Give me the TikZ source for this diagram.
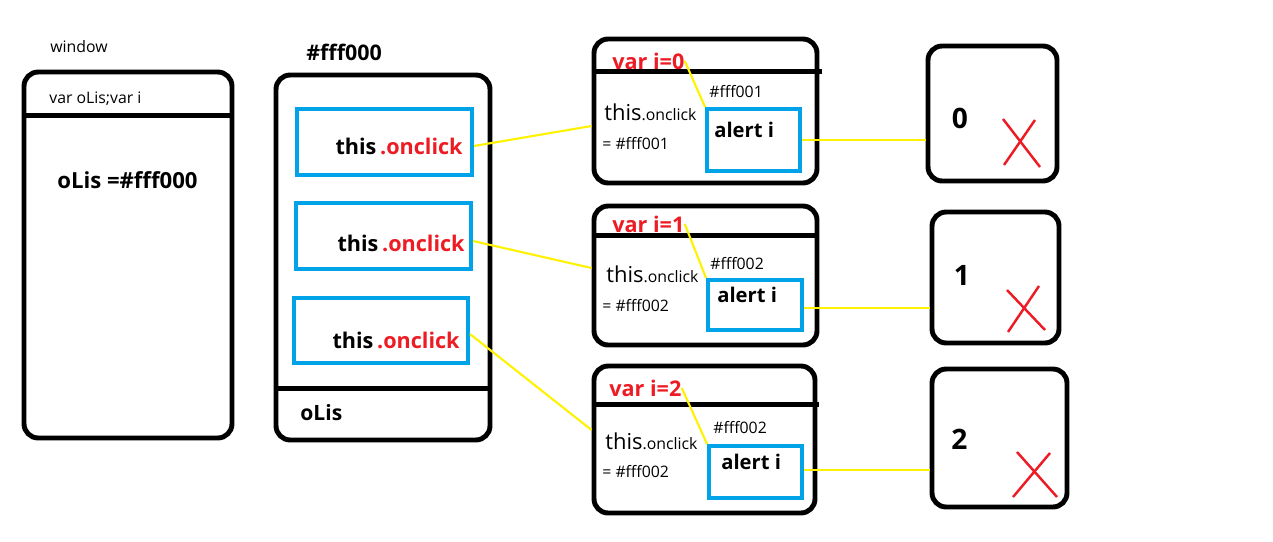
\documentclass[tikz,border=0pt]{standalone}
\usepackage{fontspec}
\setmainfont{Open Sans}
\usepackage{xcolor}
\definecolor{colSlot}{RGB}{0,162,232}
\definecolor{colMark}{RGB}{237,28,36}
\definecolor{colWire}{RGB}{255,242,0}
\usetikzlibrary{calc}

\begin{document}
\begin{tikzpicture}[x=0.02cm, y=-0.02cm,
		frame/.style={draw, line width=2.8pt, rounded corners=8pt, inner sep=0pt},
		slot/.style={draw=colSlot, line width=2.2pt, inner sep=0pt},
		wire/.style={colWire, line width=1.2pt},
		cross/.style={colMark, line width=1.4pt},
		sm/.style={font=\fontsize{9}{11}\selectfont, inner sep=0pt, anchor=west},
		bf/.style={font=\fontsize{11.5}{13}\selectfont\bfseries, inner sep=0pt, anchor=west},
		bfl/.style={bf, font=\fontsize{12.3}{14}\selectfont\bfseries},
		digit/.style={font=\fontsize{16}{18}\selectfont\bfseries, inner sep=0pt}]
	\useasboundingbox (0,0) rectangle (1273,541);
	% window scope
	\node[frame, minimum width=4.16cm, minimum height=7.32cm] (win) at (128,255) {};
	\draw[line width=2.8pt] ([yshift=-0.92cm]win.north west) -- ([yshift=-0.92cm]win.north east);
	\node[sm] (wlab) at (50,47) {window};
	\node[sm] (wvars) at (49,99) {var oLis;var i};
	\node[bf, font=\fontsize{12.6}{14}\selectfont\bfseries] (wref) at (57,180) {oLis =\#fff000};
	% the list object
	\node[frame, minimum width=4.28cm, minimum height=7.3cm] (heap) at (383,257.5) {};
	\draw[line width=2.8pt] ([yshift=1.08cm]heap.south west) -- ([yshift=1.08cm]heap.south east);
	\node[bf, font=\fontsize{12.2}{14}\selectfont\bfseries] (hlab) at (306,52) {\#fff000};
	\node[bf, font=\fontsize{12}{14}\selectfont\bfseries] (hvar) at (300,413) {oLis};
	\node[slot, minimum width=3.5cm, minimum height=1.32cm] (li0) at (384.5,142) {};
	\node[slot, minimum width=3.5cm, minimum height=1.32cm] (li1) at (383.5,236) {};
	\node[slot, minimum width=3.48cm, minimum height=1.3cm] (li2) at (381,330.5) {};
	\node[bfl, anchor=east] (lt0) at (463,146) {this\,\textcolor{colMark}{.onclick}};
	\node[bfl, anchor=east] (lt1) at (465,243) {this\,\textcolor{colMark}{.onclick}};
	\node[bfl, anchor=east] (lt2) at (460,340) {this\,\textcolor{colMark}{.onclick}};
	% function scopes
	\node[frame, minimum width=4.46cm, minimum height=2.88cm] (sc0) at (705.5,111) {};
	\node[frame, minimum width=4.46cm, minimum height=2.78cm] (sc1) at (705.5,275.5) {};
	\node[frame, minimum width=4.42cm, minimum height=2.94cm] (sc2) at (704.5,439.5) {};
	\draw[line width=2.8pt] ([yshift=-0.7cm]sc0.north west) -- ([yshift=-0.7cm, xshift=0.06cm]sc0.north east);
	\draw[line width=2.8pt] ([yshift=-0.64cm]sc1.north west) -- ([yshift=-0.64cm]sc1.north east);
	\draw[line width=2.8pt] ([yshift=-0.82cm]sc2.north west) -- ([yshift=-0.82cm, xshift=0.04cm]sc2.north east);
	\node[slot, minimum width=1.86cm, minimum height=1.24cm] (al0) at (753.5,140) {};
	\node[slot, minimum width=1.88cm, minimum height=1.0cm] (al1) at (755,305) {};
	\node[slot, minimum width=1.86cm, minimum height=1.04cm] (al2) at (755.5,472) {};
	\node[bfl, text=colMark] (v0) at (612,61) {var i=0};
	\node[bfl, text=colMark] (v1) at (612,224) {var i=1};
	\node[bfl, text=colMark] (v2) at (609,388) {var i=2};
	\node[sm] (ad0) at (709,92) {\#fff001};
	\node[sm] (ad1) at (710,264) {\#fff002};
	\node[sm] (ad2) at (713,428) {\#fff002};
	\node[sm, anchor=base west] (th0) at (604,120) {{\fontsize{12.5}{14}\selectfont this}.onclick};
	\node[sm, anchor=base west] (th1) at (606,282) {{\fontsize{12.5}{14}\selectfont this}.onclick};
	\node[sm, anchor=base west] (th2) at (605,449) {{\fontsize{12.5}{14}\selectfont this}.onclick};
	\node[sm] (eq0) at (602,144) {= \#fff001};
	\node[sm] (eq1) at (602,306) {= \#fff002};
	\node[sm] (eq2) at (602,472) {= \#fff002};
	\node[bf] (at0) at (714,130) {alert i};
	\node[bf] (at1) at (717,295) {alert i};
	\node[bf] (at2) at (721,462) {alert i};
	% results
	\node[frame, minimum width=2.58cm, minimum height=2.7cm] (res0) at (992.5,113.5) {};
	\node[frame, minimum width=2.54cm, minimum height=2.62cm] (res1) at (995.5,277.5) {};
	\node[frame, minimum width=2.7cm, minimum height=2.76cm] (res2) at (999.5,438) {};
	\node[digit] (n0) at (960,118) {0};
	\node[digit] (n1) at (962,275) {1};
	\node[digit] (n2) at (959.5,439) {2};
	\draw[cross] (1003,119) -- (1040,167) (1035,120) -- (1004,165);
	\draw[cross] (1007,290) -- (1045,330) (1039,286) -- (1008,332);
	\draw[cross] (1017,452) -- (1057,497) (1050,453) -- (1013,497);
	% wires
	\draw[wire] ([yshift=-0.08cm]li0.east) -- ([yshift=-0.3cm]sc0.west);
	\draw[wire] ([yshift=-0.1cm]li1.east) -- ([yshift=0.15cm]sc1.west);
	\draw[wire] ([yshift=-0.07cm]li2.east) -- ([yshift=0.19cm]sc2.west);
	\draw[wire] (v0.east) -- (al0.north west);
	\draw[wire] (v1.east) -- (al1.north west);
	\draw[wire] (v2.east) -- (al2.north west);
	\draw[wire] (al0.east) -- (al0.east -| res0.west);
	\draw[wire] ([yshift=-0.06cm]al1.east) -- ([yshift=-0.06cm]al1.east -| res1.west);
	\draw[wire] ([yshift=0.04cm]al2.east) -- ([yshift=0.04cm]al2.east -| res2.west);
\end{tikzpicture}
\end{document}
